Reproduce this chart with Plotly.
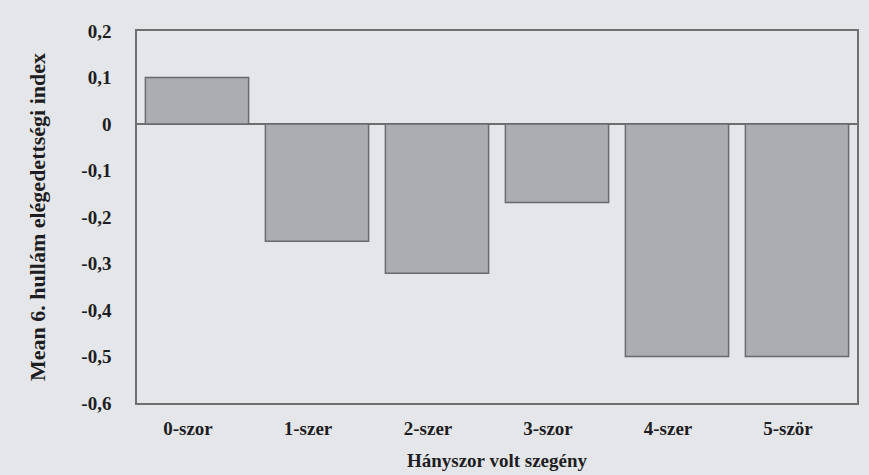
import plotly.graph_objects as go

categories = ["0-szor", "1-szer", "2-szer", "3-szor", "4-szer", "5-ször"]
mean_index = [0.10, -0.252, -0.321, -0.169, -0.50, -0.50]

y_ticks = [0.2, 0.1, 0, -0.1, -0.2, -0.3, -0.4, -0.5, -0.6]
y_tick_labels = ["0,2", "0,1", "0", "-0,1", "-0,2", "-0,3", "-0,4", "-0,5", "-0,6"]

bg = "#e4e6ea"
frame = "#6f6f72"
font_family = "Liberation Serif"

fig = go.Figure(
    go.Bar(
        x=categories,
        y=mean_index,
        marker=dict(color="#acadb1", line=dict(color="#6a6a6e", width=1.5)),
    )
)

fig.update_layout(
    width=869,
    height=475,
    margin=dict(l=137, r=12, t=31, b=72),
    paper_bgcolor=bg,
    plot_bgcolor=bg,
    bargap=0.14,
    showlegend=False,
    font=dict(family=font_family, color="#1e1e22", size=17),
    xaxis=dict(
        title=dict(text="<b>Hányszor volt szegény</b>", font=dict(size=19), standoff=16),
        tickfont=dict(size=19),
        tickprefix="<b>",
        ticksuffix="</b>",
        showline=True,
        linecolor=frame,
        linewidth=1.5,
        mirror=True,
        ticks="",
        ticklabelstandoff=7,
        ticklabelshift=-9,
        automargin=False,
    ),
    yaxis=dict(
        title=dict(text="<b>Mean 6. hullám elégedettségi index</b>", font=dict(size=22), standoff=30),
        range=[-0.6, 0.2],
        tickvals=y_ticks,
        ticktext=[f"<b>{t}</b>" for t in y_tick_labels],
        tickfont=dict(size=19),
        showline=True,
        linecolor=frame,
        linewidth=1.5,
        mirror=True,
        showgrid=False,
        zeroline=True,
        zerolinecolor=frame,
        zerolinewidth=1.5,
        ticks="",
        ticklabelstandoff=20,
        automargin=False,
    ),
)

# remove the default page margin so the figure fills the window
page_style = "document.body.style.margin='0';document.body.style.background='%s';" % bg

fig.write_html("out.html", post_script=page_style, config={"displayModeBar": False})
